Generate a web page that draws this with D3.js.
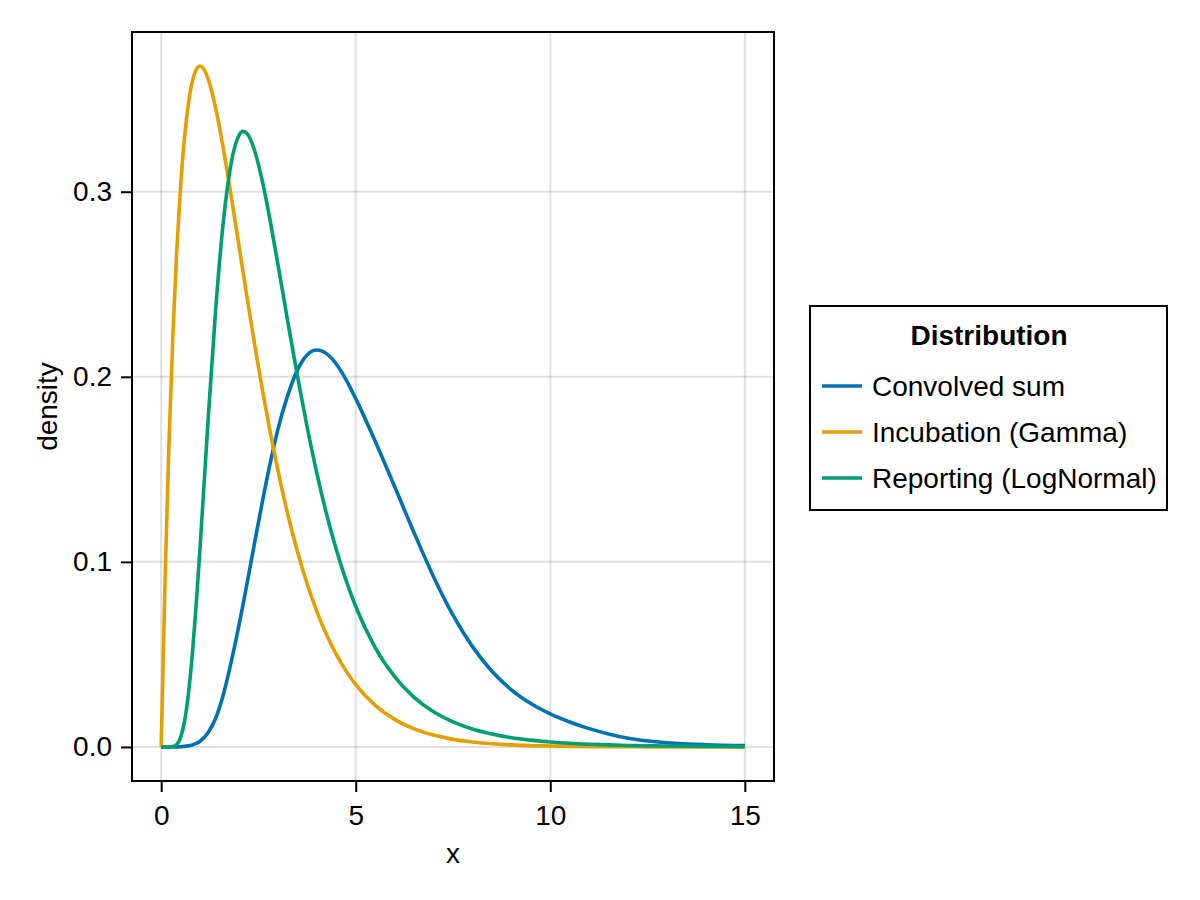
<!DOCTYPE html>
<html>
<head>
<meta charset="utf-8">
<script src="https://cdn.jsdelivr.net/npm/d3@7"></script>
<style>
  html, body { margin: 0; padding: 0; background: #fff; }
  svg { display: block; font-family: "Liberation Sans", Arial, Helvetica, sans-serif; }
</style>
</head>
<body>
<svg id="chart" width="1200" height="900"></svg>
<script>
// ---- data ----
const xs = [0,0.1,0.2,0.3,0.4,0.5,0.6,0.7,0.8,0.9,1.0,1.2,1.4,1.6,1.8,2.0,2.1,2.2,2.4,2.6,2.8,3.0,3.25,3.5,3.75,4.0,4.25,4.5,4.75,5.0,5.5,6,6.5,7,7.5,8,8.5,9,9.5,10,10.5,11,11.5,12,13,14,15];
const convolved = [0,0,0,0,0.00005,0.0001,0.0003,0.0006,0.0011,0.0019,0.0031,0.0075,0.0155,0.0285,0.046,0.0658,0.0765,0.0876,0.1102,0.1324,0.1532,0.1716,0.1898,0.2036,0.2118,0.2145,0.2125,0.2069,0.1985,0.1882,0.1652,0.1407,0.1157,0.0920,0.0712,0.0542,0.0409,0.0309,0.0235,0.0179,0.0135,0.0099,0.0070,0.0047,0.0023,0.0012,0.0007];
const incubation = [0,0.0905,0.1637,0.2222,0.2681,0.3033,0.3293,0.3476,0.3595,0.3659,0.3679,0.3614,0.3452,0.3230,0.2975,0.2707,0.2572,0.2438,0.2177,0.1931,0.1703,0.1494,0.1260,0.1057,0.0882,0.0733,0.0606,0.0500,0.0411,0.0337,0.0225,0.0149,0.0098,0.0064,0.0041,0.0027,0.0017,0.0011,0.0007,0.0005,0.0003,0.0002,0.0001,0.0001,0,0,0];
const reporting = [0,0,0,0.0002,0.0013,0.0052,0.0138,0.0287,0.0500,0.0770,0.1080,0.1746,0.2363,0.2843,0.3156,0.3305,0.3326,0.3316,0.3223,0.3057,0.2845,0.2608,0.2303,0.2006,0.1730,0.1480,0.1259,0.1067,0.0901,0.0759,0.0537,0.0380,0.0268,0.0190,0.0136,0.0097,0.0070,0.0050,0.0037,0.0027,0.0020,0.0015,0.0011,0.0008,0.0005,0.0003,0.0002];
const seriesNames = ["Convolved sum", "Incubation (Gamma)", "Reporting (LogNormal)"];
const seriesColors = ["#0072B2", "#E69F00", "#009E73"];
const xTicks = [0, 5, 10, 15];
const yTicks = [0.0, 0.1, 0.2, 0.3];
const legendTitle = "Distribution";
const xLabel = "x";
const yLabel = "density";

const seriesValues = [convolved, incubation, reporting];

// ---- layout ----
const svg = d3.select("#chart");
const plot = { left: 132, right: 774, top: 32, bottom: 781 };
const FS = 28;

const xExt = d3.extent(xs);
const yMax = d3.max(seriesValues.flat());
const yMin = 0;
const xPad = (xExt[1] - xExt[0]) * 0.05;
const yPad = (yMax - yMin) * 0.05;

const x = d3.scaleLinear().domain([xExt[0] - xPad, xExt[1] + xPad]).range([plot.left, plot.right]);
const y = d3.scaleLinear().domain([yMin - yPad, yMax + yPad]).range([plot.bottom, plot.top]);

// grid
const grid = svg.append("g");
grid.selectAll("line.gx").data(xTicks).join("line")
  .attr("x1", d => x(d)).attr("x2", d => x(d))
  .attr("y1", plot.top).attr("y2", plot.bottom)
  .attr("stroke", "rgba(0,0,0,0.12)").attr("stroke-width", 2);
grid.selectAll("line.gy").data(yTicks).join("line")
  .attr("y1", d => y(d)).attr("y2", d => y(d))
  .attr("x1", plot.left).attr("x2", plot.right)
  .attr("stroke", "rgba(0,0,0,0.12)").attr("stroke-width", 2);

// lines
const line = d3.line().x(d => x(d[0])).y(d => y(d[1])).curve(d3.curveMonotoneX);
seriesValues.forEach((vals, i) => {
  svg.append("path")
    .datum(xs.map((xv, j) => [xv, vals[j]]))
    .attr("fill", "none")
    .attr("stroke", seriesColors[i])
    .attr("stroke-width", 3.6)
    .attr("stroke-linejoin", "round")
    .attr("d", line);
});

// frame
svg.append("rect")
  .attr("x", plot.left).attr("y", plot.top)
  .attr("width", plot.right - plot.left).attr("height", plot.bottom - plot.top)
  .attr("fill", "none").attr("stroke", "#000").attr("stroke-width", 2);

// axes
const xAxis = d3.axisBottom(x).tickValues(xTicks).tickFormat(d3.format("d")).tickSize(11).tickPadding(13);
const gx = svg.append("g").attr("transform", `translate(0,${plot.bottom})`).call(xAxis);
gx.select(".domain").remove();
gx.selectAll(".tick line").attr("stroke", "#000").attr("stroke-width", 2);
gx.selectAll(".tick text").attr("font-size", FS).attr("fill", "#000").attr("font-family", null);
gx.attr("font-family", null);

const yAxis = d3.axisLeft(y).tickValues(yTicks).tickFormat(d3.format(".1f")).tickSize(11).tickPadding(9);
const gy = svg.append("g").attr("transform", `translate(${plot.left},0)`).call(yAxis);
gy.select(".domain").remove();
gy.selectAll(".tick line").attr("stroke", "#000").attr("stroke-width", 2);
gy.selectAll(".tick text").attr("font-size", FS).attr("fill", "#000").attr("font-family", null);
gy.attr("font-family", null);

// axis labels
svg.append("text")
  .attr("x", (plot.left + plot.right) / 2).attr("y", 863)
  .attr("text-anchor", "middle").attr("font-size", FS).text(xLabel);
svg.append("text")
  .attr("transform", `translate(57,${(plot.top + plot.bottom) / 2}) rotate(-90)`)
  .attr("text-anchor", "middle").attr("font-size", FS).text(yLabel);

// legend
const lg = svg.append("g");
lg.append("rect")
  .attr("x", 810).attr("y", 306).attr("width", 357).attr("height", 204)
  .attr("fill", "#fff").attr("stroke", "#000").attr("stroke-width", 2);
lg.append("text")
  .attr("x", 989).attr("y", 345).attr("text-anchor", "middle")
  .attr("font-size", FS).attr("font-weight", "bold").text(legendTitle);
seriesNames.forEach((name, i) => {
  const cy = 386 + i * 46;
  lg.append("line")
    .attr("x1", 822).attr("x2", 862).attr("y1", cy).attr("y2", cy)
    .attr("stroke", seriesColors[i]).attr("stroke-width", 3.4);
  lg.append("text")
    .attr("x", 872).attr("y", cy + 10)
    .attr("font-size", FS).text(name);
});
</script>
</body>
</html>
